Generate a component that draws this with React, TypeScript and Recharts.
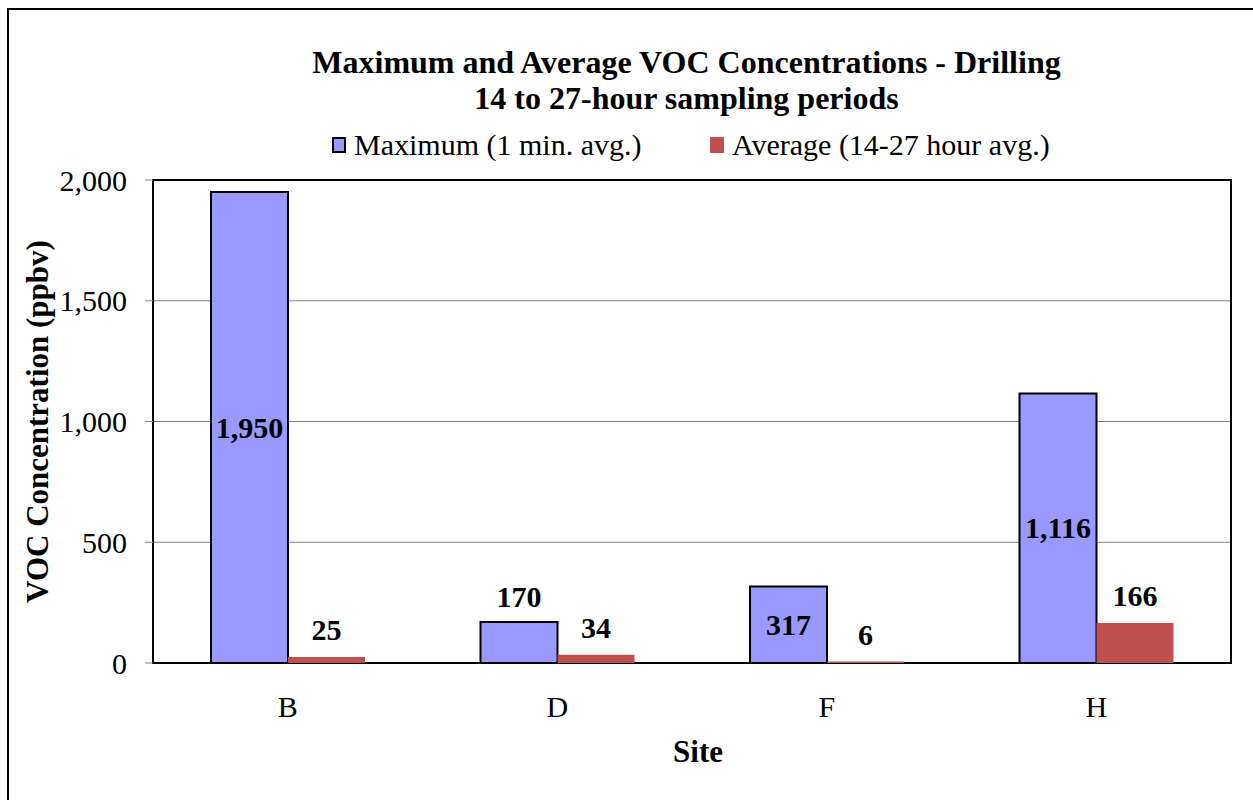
import {
  Bar,
  BarChart,
  CartesianGrid,
  LabelList,
  Label,
  ReferenceArea,
  XAxis,
  YAxis,
} from 'recharts';

const sites = ['B', 'D', 'F', 'H'];
const maxValues = [1950, 170, 317, 1116];
const avgValues = [25, 34, 6, 166];
const yTicks = [0, 500, 1000, 1500, 2000];
const boundTicks = [0, 1, 2, 3, 4];

const seriesNames = ['Maximum (1 min. avg.)', 'Average (14-27 hour avg.)'];
const seriesColors = ['#9999FF', '#C0504D'];

const data = sites.map((site, i) => ({
  site,
  max: maxValues[i],
  avg: avgValues[i],
}));

const FONT = '"Liberation Serif", "Times New Roman", serif';
const fmt = (v: number) => Number(v).toLocaleString('en-US');

function MaxLabel(props: any) {
  const { x, y, width, height, value } = props;
  const inside = height > 60;
  const cy = inside ? y + height / 2 : y - 25;
  return (
    <text
      x={x + width / 2}
      y={cy + 10}
      textAnchor='middle'
      fontFamily={FONT}
      fontWeight='bold'
      fontSize={30}
      fill='#000'
    >
      {fmt(value)}
    </text>
  );
}

function AvgLabel(props: any) {
  const { x, y, width, value } = props;
  return (
    <text
      x={x + width / 2}
      y={y - 27 + 10}
      textAnchor='middle'
      fontFamily={FONT}
      fontWeight='bold'
      fontSize={30}
      fill='#000'
    >
      {fmt(value)}
    </text>
  );
}

function YTitle(props: any) {
  const vb = props.viewBox || {};
  const x = (vb.x ?? 0) + 38;
  const y = (vb.y ?? 0) + (vb.height ?? 0) / 2;
  return (
    <text
      x={x}
      y={y + 10}
      transform={`rotate(-90, ${x}, ${y})`}
      textAnchor='middle'
      fontFamily={FONT}
      fontWeight='bold'
      fontSize={31}
      fill='#000'
    >
      VOC Concentration (ppbv)
    </text>
  );
}

function XTitle(props: any) {
  const vb = props.viewBox || {};
  const x = (vb.x ?? 0) + (vb.width ?? 0) / 2 + 6;
  const y = (vb.y ?? 0) + 89;
  return (
    <text
      x={x}
      y={y + 10}
      textAnchor='middle'
      fontFamily={FONT}
      fontWeight='bold'
      fontSize={31}
      fill='#000'
    >
      Site
    </text>
  );
}

export default function App() {
  return (
    <div
      style={{
        position: 'absolute',
        left: 0,
        top: 0,
        width: 1253,
        height: 800,
        overflow: 'hidden',
        background: '#fff',
        fontFamily: FONT,
      }}
    >
      <div
        style={{
          position: 'absolute',
          left: 7,
          top: 8,
          width: 1400,
          height: 1000,
          border: '2px solid #000',
        }}
      />
      <div
        style={{
          position: 'absolute',
          left: 0,
          width: 1373,
          top: 44,
          textAlign: 'center',
          fontWeight: 'bold',
          fontSize: 32,
          lineHeight: '36px',
          color: '#000',
        }}
      >
        <div>Maximum and Average VOC Concentrations - Drilling</div>
        <div>14 to 27-hour sampling periods</div>
      </div>
      {seriesNames.map((name, i) => (
        <div
          key={name}
          style={{
            position: 'absolute',
            left: i === 0 ? 332 : 710,
            top: 130,
            display: 'flex',
            alignItems: 'center',
            fontSize: 30,
            lineHeight: '30px',
            whiteSpace: 'nowrap',
            color: '#000',
          }}
        >
          <span
            style={{
              display: 'inline-block',
              width: 14,
              height: 16,
              boxSizing: 'border-box',
              background: seriesColors[i],
              border: i === 0 ? '2px solid #000' : 'none',
              marginRight: 8,
            }}
          />
          <span>{name}</span>
        </div>
      ))}
      <div style={{ position: 'absolute', left: 0, top: 0 }}>
        <BarChart
          width={1253}
          height={800}
          data={data}
          margin={{ top: 180, right: 22, bottom: 0, left: 0 }}
          barGap={0}
          barSize={77}
        >
          <CartesianGrid
            vertical={false}
            stroke='#808080'
            strokeWidth={1}
            yAxisId='left'
            xAxisId='site'
          />
          <XAxis
            xAxisId='bounds'
            type='number'
            domain={[0, 4]}
            ticks={boundTicks}
            allowDataOverflow
            height={0}
            tick={false}
            tickSize={8}
            tickLine={{ stroke: '#808080' }}
            axisLine={false}
          />
          <XAxis
            xAxisId='site'
            dataKey='site'
            height={137}
            axisLine={false}
            tickLine={false}
            tickSize={0}
            tickMargin={33}
            tick={{ fontSize: 30, fill: '#000', fontFamily: FONT }}
          >
            <Label content={XTitle} />
          </XAxis>
          <YAxis
            yAxisId='left'
            width={153}
            domain={[0, 2000]}
            ticks={yTicks}
            tickFormatter={fmt}
            tickSize={8}
            tickMargin={18}
            tickLine={{ stroke: '#808080' }}
            axisLine={false}
            tick={{ fontSize: 30, fill: '#000', fontFamily: FONT }}
          >
            <Label content={YTitle} />
          </YAxis>
          <ReferenceArea
            xAxisId='site'
            yAxisId='left'
            y1={0}
            y2={2000}
            fill='none'
            stroke='#000'
            strokeWidth={2}
            ifOverflow='visible'
          />
          <Bar
            xAxisId='site'
            yAxisId='left'
            dataKey='max'
            name={seriesNames[0]}
            fill={seriesColors[0]}
            stroke='#000'
            strokeWidth={2}
            isAnimationActive={false}
          >
            <LabelList dataKey='max' content={MaxLabel} />
          </Bar>
          <Bar
            xAxisId='site'
            yAxisId='left'
            dataKey='avg'
            name={seriesNames[1]}
            fill={seriesColors[1]}
            isAnimationActive={false}
          >
            <LabelList dataKey='avg' content={AvgLabel} />
          </Bar>
        </BarChart>
      </div>
    </div>
  );
}
